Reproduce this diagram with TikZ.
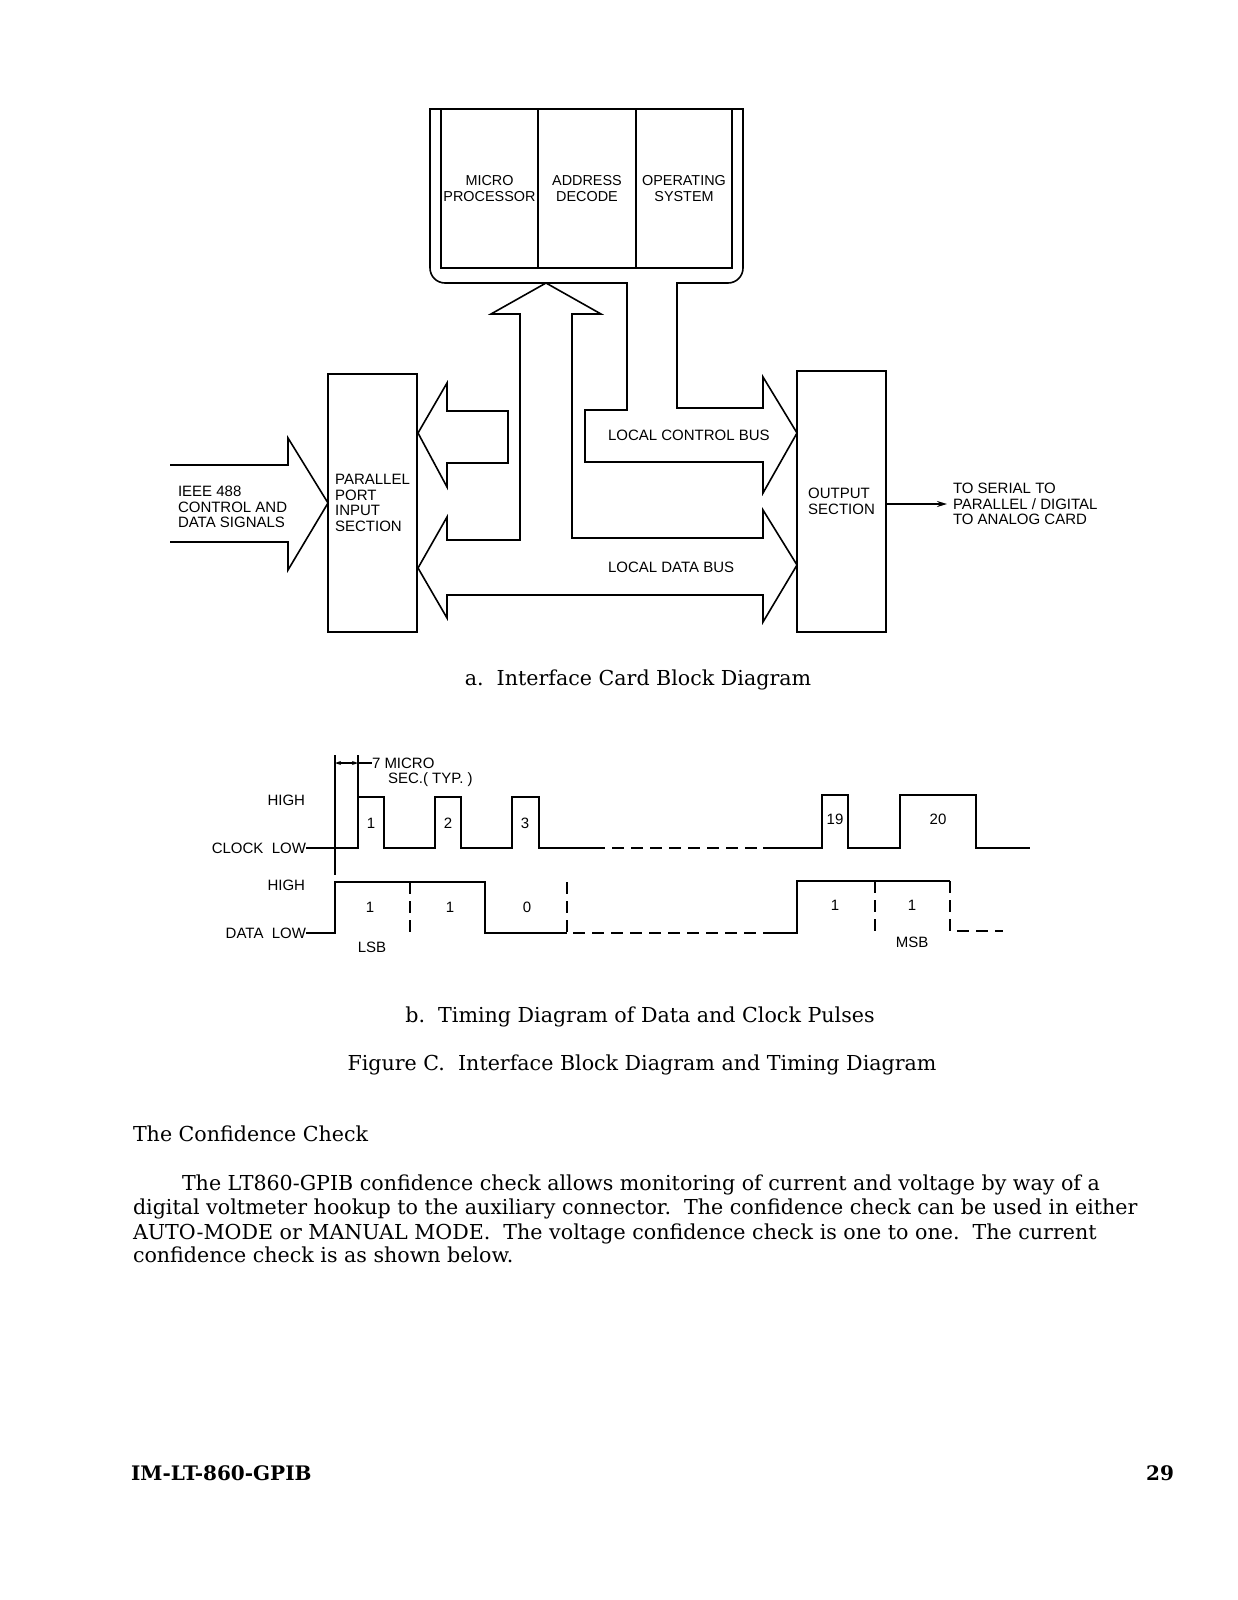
\documentclass[tikz,border=0pt]{standalone}
\usepackage{fontspec}
\setmainfont{DejaVu Serif}
\newfontfamily\lettering{Liberation Sans}
\usetikzlibrary{positioning,arrows.meta}

\begin{document}
\begin{tikzpicture}[
    x=0.5pt, y=-0.5pt,
    line width=0.8pt,
    every node/.style={inner sep=0pt, outer sep=0pt},
    letters/.style={font=\lettering\fontsize{7.5}{7.8}\selectfont, align=left},
    block/.style={draw, letters},
    unit/.style={block, font=\lettering\fontsize{7.2}{7.7}\selectfont, align=center,
        minimum width=48.5pt, minimum height=79.5pt},
    bus/.style={draw, line join=miter},
    omitted/.style={dash pattern=on 6pt off 3.5pt},
    caption/.style={font=\fontsize{10.3}{12}\selectfont, anchor=mid},
    bodyline/.style={font=\fontsize{10.3}{12}\selectfont, anchor=mid west},
    tick/.style={{Stealth[length=3pt,width=2pt]}-{Stealth[length=3pt,width=2pt]}}
]
\path[fill=white] (0,0) rectangle (1237,1600);

\node[unit] (micro) at (489.5,188.5) {MICRO\\PROCESSOR};
\node[unit, right=0pt of micro, minimum width=49pt] (decode) {ADDRESS\\DECODE};
\node[unit, right=0pt of decode, minimum width=48pt] (opsys) {OPERATING\\SYSTEM};

\draw[rounded corners=7.5pt, line cap=rect] (627,283) -- (430,283) -- (430,109);
\draw[line cap=rect] (430,109) -- (743,109);
\draw[rounded corners=7.5pt, line cap=rect] (743,109) -- (743,283) -- (677,283);
\draw[bus] (627,283) -- (627,410) -- (585,410) -- (585,462) -- (763,462) -- (763,493)
    -- (797,433) -- (763,377) -- (763,408) -- (677,408) -- (677,283);

\node[block, minimum width=44.5pt, minimum height=129pt] (ppis) at (372.5,503) {PARALLEL\\PORT\\INPUT\\SECTION};
\node[block, minimum width=44.5pt, minimum height=130.5pt] (outsec) at (841.5,501.5) {OUTPUT\\SECTION};

\draw[bus] (170,465) -- (288,465) -- (288,438) -- (ppis.west) -- (288,570) -- (288,542) -- (170,542);
\draw[bus] (508,411) -- (447,411) -- (447,383) -- (418,433) -- (447,487) -- (447,463) -- (508,463) -- cycle;
\draw[bus] (546,283) -- (601,314) -- (572,314) -- (572,538) -- (763,538) -- (763,510) -- (797,565)
    -- (763,622) -- (763,595) -- (447,595) -- (447,618) -- (418,568) -- (447,517) -- (447,540)
    -- (520,540) -- (520,314) -- (491,314) -- cycle;

\node[letters, anchor=west] (ieee) at (178,507) {IEEE 488\\CONTROL AND\\DATA SIGNALS};
\node[letters, anchor=west] (ctlbus) at (608,435) {LOCAL CONTROL BUS};
\node[letters, anchor=west] (datbus) at (608,567) {LOCAL DATA BUS};
\node[letters, anchor=west] (card) at (953,504) {TO SERIAL TO\\PARALLEL / DIGITAL\\TO ANALOG CARD};
\draw[-{Stealth[length=5pt,width=3pt]}, shorten >=3pt] (outsec.east |- card.west) -- (card.west);

\node[caption] (capa) at (638,680) {a.\ \ Interface Card Block Diagram};

\node[letters, anchor=east] (clkhigh) at (305,800) {HIGH};
\node[letters, anchor=east] (clklow) at (306,848) {CLOCK\ \ LOW};
\node[letters, anchor=east] (dathigh) at (305,885) {HIGH};
\node[letters, anchor=east] (datlow) at (306,933) {DATA\ \ LOW};
\node[letters, anchor=west] (typa) at (372,763) {7 MICRO};
\node[letters, anchor=west] (typb) at (388,780) {SEC.( TYP. )};

\draw (335,755) -- (335,875);
\draw (358,755) -- (358,797);
\draw[tick] (335,763) -- (358,763);
\draw (358,763) -- (typa.west);

\draw (clklow.east) -- (358,848) -- (358,797) -- (384,797) -- (384,848) -- (435,848) -- (435,797)
    -- (461,797) -- (461,848) -- (512,848) -- (512,797) -- (539,797) -- (539,848) -- (593,848);
\draw[omitted] (593,848) -- (763,848);
\draw (763,848) -- (822,848) -- (822,795) -- (848,795) -- (848,848) -- (900,848) -- (900,795)
    -- (976,795) -- (976,848) -- (1030,848);

\draw (datlow.east) -- (335,933) -- (335,882) -- (485,882) -- (485,933) -- (567,933);
\draw[omitted] (567,882) -- (567,933) -- (770,933);
\draw (770,933) -- (797,933) -- (797,881) -- (950,881);
\draw[omitted] (950,881) -- (950,931) -- (1003,931);
\draw[omitted] (410,882) -- (410,935);
\draw[omitted] (875,881) -- (875,935);

\node[letters] (c1) at (371,823) {1};
\node[letters] (c2) at (448,823) {2};
\node[letters] (c3) at (525,823) {3};
\node[letters] (c19) at (835,819) {19};
\node[letters] (c20) at (938,819) {20};
\node[letters] (b1) at (370,907) {1};
\node[letters] (b2) at (450,907) {1};
\node[letters] (b3) at (527,907) {0};
\node[letters] (b19) at (835,905) {1};
\node[letters] (b20) at (912,905) {1};
\node[letters] (lsb) at (372,947) {LSB};
\node[letters] (msb) at (912,942) {MSB};

\node[caption] (capb) at (640,1017) {b.\ \ Timing Diagram of Data and Clock Pulses};
\node[caption] (figc) at (642,1065) {Figure C.\ \ Interface Block Diagram and Timing Diagram};

\node[bodyline] (head) at (133,1136) {The Confidence Check};
\node[bodyline] (line1) at (182,1185) {The LT860-GPIB confidence check allows monitoring of current and voltage by way of a};
\node[bodyline] (line2) at (133,1209) {digital voltmeter hookup to the auxiliary connector.\ \ The confidence check can be used in either};
\node[bodyline] (line3) at (133,1234) {AUTO-MODE or MANUAL MODE.\ \ The voltage confidence check is one to one.\ \ The current};
\node[bodyline] (line4) at (133,1257) {confidence check is as shown below.};

\node[bodyline, font=\bfseries\fontsize{10}{12}\selectfont] (foot) at (131,1475) {IM-LT-860-GPIB};
\node[bodyline, anchor=mid east, font=\bfseries\fontsize{10}{12}\selectfont] (page) at (1174,1475) {29};
\end{tikzpicture}
\end{document}
